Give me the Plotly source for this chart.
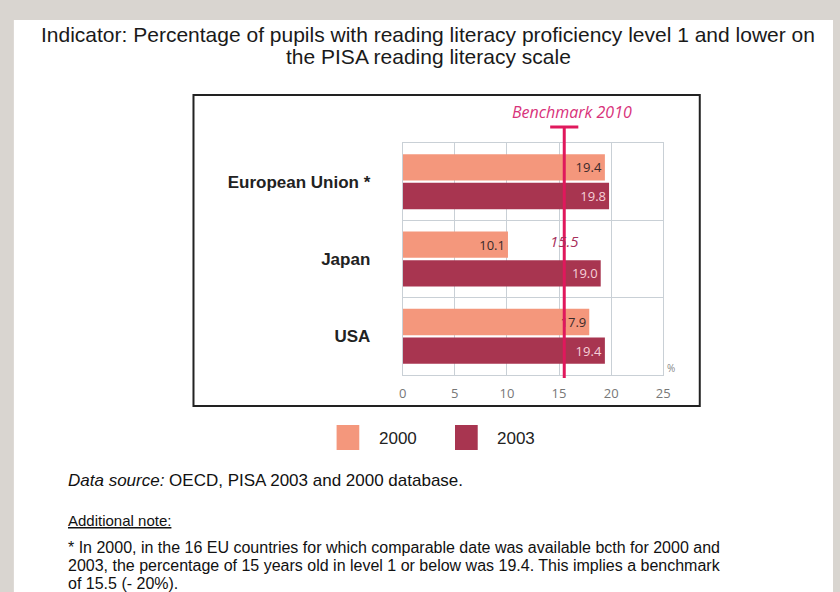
import plotly.graph_objects as go

countries = ["European Union *", "Japan", "USA"]
years = ["2000", "2003"]
pct_2000 = [19.4, 10.1, 17.9]
pct_2003 = [19.8, 19.0, 19.4]
benchmark = 15.5
x_ticks = [0, 5, 10, 15, 20, 25]

title_lines = ["Indicator: Percentage of pupils with reading literacy proficiency level 1 and lower on",
               "the PISA reading literacy scale"]
note_lines = ["* In 2000, in the 16 EU countries for which comparable date was available bcth for 2000 and",
              "2003, the percentage of 15 years old in level 1 or below was 19.4. This implies a benchmark",
              "of 15.5 (- 20%)."]

W, H = 840, 592
def px(x):
    return x / W
def py(y):
    return 1 - y / H

c2000 = "#f4977c"
c2003 = "#a83550"
pink = "#e0185c"

fig = go.Figure()
fig.add_trace(go.Bar(y=countries, x=pct_2000, name=years[0], orientation="h",
                     marker=dict(color=c2000, line=dict(width=0)),
                     text=[f"{v:.1f}" for v in pct_2000], textposition="inside",
                     insidetextanchor="end",
                     textfont=dict(color="#3a2a2a", size=13, family="Open Sans")))
fig.add_trace(go.Bar(y=countries, x=pct_2003, name=years[1], orientation="h",
                     marker=dict(color=c2003, line=dict(width=0)),
                     text=[f"{v:.1f}" for v in pct_2003], textposition="inside",
                     insidetextanchor="end",
                     textfont=dict(color="#f6d0d8", size=13, family="Open Sans")))

shapes = [
    # page background
    dict(type="rect", xref="paper", yref="paper", x0=px(10), x1=1, y0=0, y1=py(20),
         fillcolor="white", line=dict(width=0), layer="below"),
    # chart frame
    dict(type="rect", xref="paper", yref="paper", x0=px(192), x1=px(705), y0=py(406), y1=py(95),
         line=dict(color="#222", width=2)),
    # benchmark line
    dict(type="line", xref="x", yref="paper", x0=benchmark, x1=benchmark, y0=py(378), y1=py(127),
         line=dict(color=pink, width=3)),
    dict(type="line", xref="x", yref="paper", x0=benchmark - 1.35, x1=benchmark + 1.35,
         y0=py(127), y1=py(127), line=dict(color=pink, width=3)),
]
# legend squares
for i, (yr, col) in enumerate(zip(years, [c2000, c2003])):
    x0 = 337 + i * 120
    shapes.append(dict(type="rect", xref="paper", yref="paper", x0=px(x0), x1=px(x0 + 23),
                       y0=py(450), y1=py(425), fillcolor=col, line=dict(width=0)))

ann = [
    dict(x=px(430), y=py(35), text=title_lines[0],
         font=dict(size=21, color="#1a1a1a", family="Liberation Sans")),
    dict(x=px(430), y=py(57), text=title_lines[1],
         font=dict(size=21, color="#1a1a1a", family="Liberation Sans")),
    dict(x=px(576), y=py(112), text="<i>Benchmark 2010</i>",
         font=dict(size=16, color="#d8327a", family="Open Sans")),
    dict(x=benchmark, xref="x", y=py(241), text="<i>15.5</i>",
         font=dict(size=15, color="#a8305c", family="Open Sans")),
    dict(x=px(676), y=py(368), text="%", font=dict(size=10, color="#888", family="Open Sans")),
    dict(x=px(63), y=py(480), xanchor="left", text="<i>Data source:</i> OECD, PISA 2003 and 2000 database.",
         font=dict(size=17, color="#111", family="Liberation Sans")),
    dict(x=px(63), y=py(520), xanchor="left", text="<u>Additional note:</u>",
         font=dict(size=15, color="#111", family="Liberation Sans")),
]
for i, line in enumerate(note_lines):
    ann.append(dict(x=px(63), y=py(547 + 18 * i), xanchor="left", text=line,
                    font=dict(size=16, color="#111", family="Liberation Sans")))
for i, yr in enumerate(years):
    ann.append(dict(x=px(378 + i * 120), y=py(438), xanchor="left", text=yr,
                    font=dict(size=17, color="#222", family="Liberation Sans")))
for a in ann:
    a.setdefault("xref", "paper")
    a.setdefault("yref", "paper")
    a.setdefault("showarrow", False)
    a.setdefault("xanchor", "center")
    a.setdefault("yanchor", "middle")

fig.update_layout(
    width=W, height=H, margin=dict(l=0, r=0, t=0, b=0),
    paper_bgcolor="#d9d5d0", plot_bgcolor="white",
    barmode="group", bargap=0.26, bargroupgap=0.08,
    showlegend=False, shapes=shapes, annotations=ann,
    font=dict(family="Liberation Sans"),
    xaxis=dict(domain=[px(404), px(668)], range=[0, 25], tickvals=x_ticks,
               showgrid=True, gridcolor="#c9d0d6", gridwidth=1,
               showline=True, linecolor="#c9d0d6", mirror=True, zeroline=False,
               tickfont=dict(size=13, color="#777", family="Open Sans"),
               ticks="", ticklabelstandoff=6),
    yaxis=dict(domain=[py(375), py(143)], autorange="reversed", type="category",
               tickson="boundaries", showgrid=True, gridcolor="#c9d0d6",
               showline=True, linecolor="#c9d0d6", mirror=True, ticks="",
               tickfont=dict(size=17, color="#222", family="Liberation Sans"),
               ticktext=[f"<b>{c}</b>" for c in countries], tickvals=countries,
               ticklabelstandoff=28),
)

fig.write_html("out.html", config={"displayModeBar": False},
               post_script="document.body.style.margin='0';document.body.style.overflow='hidden';")
